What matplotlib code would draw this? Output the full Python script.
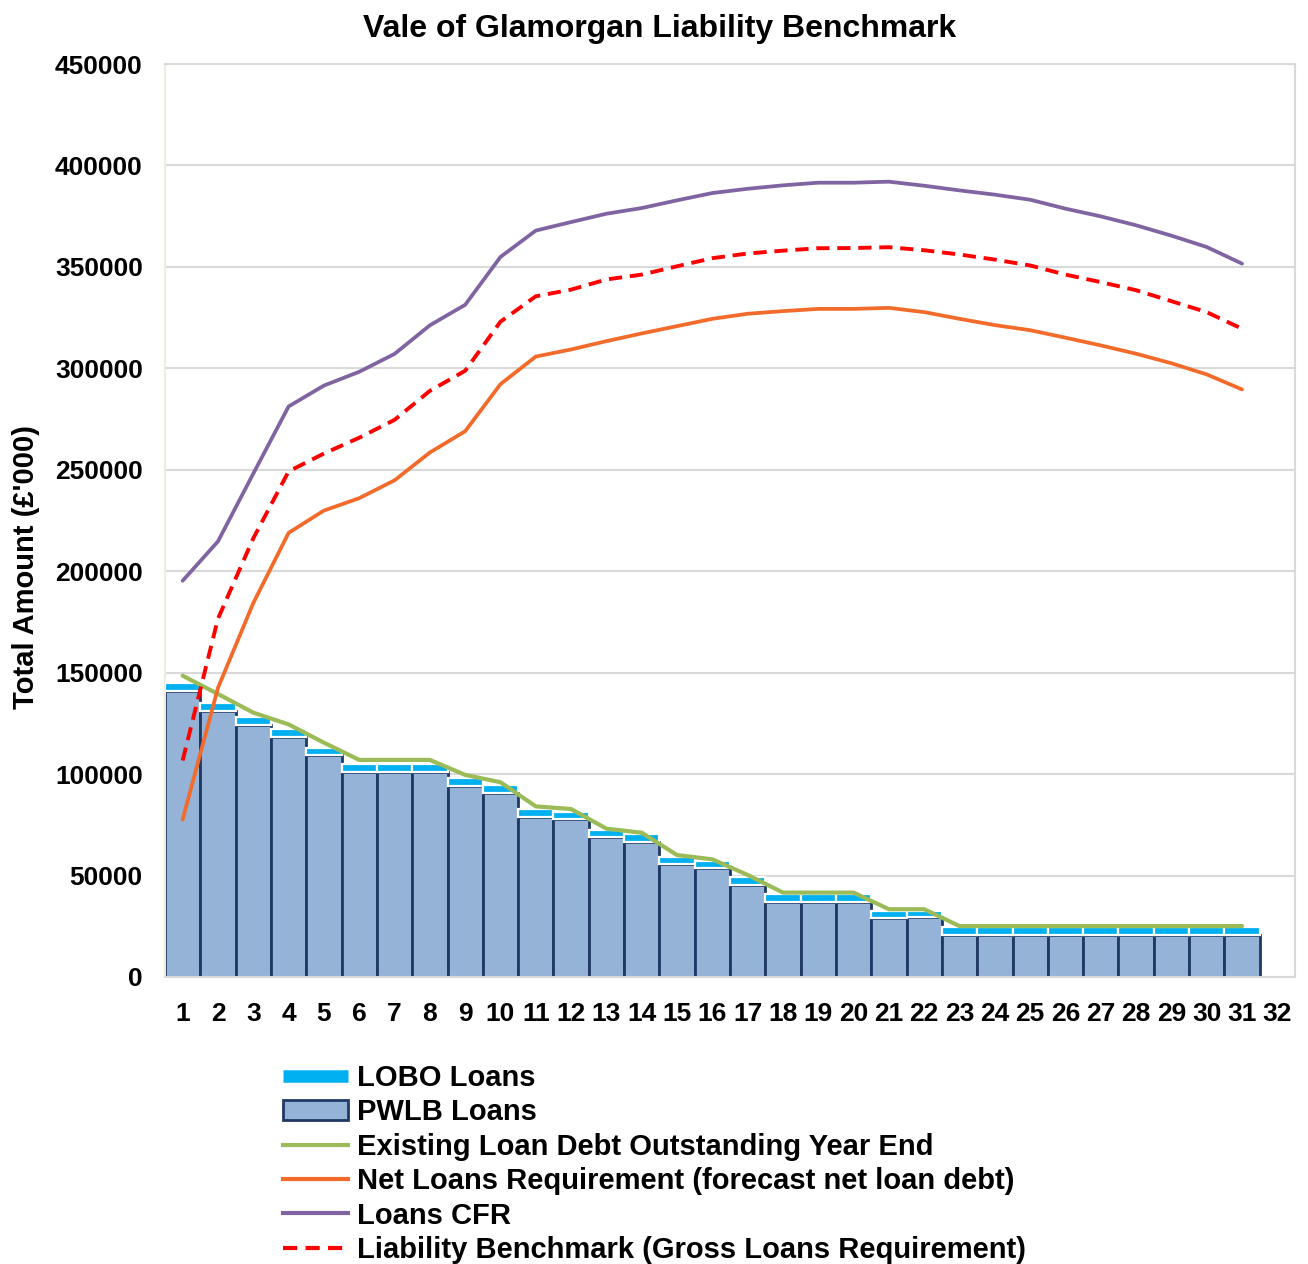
import numpy as np
import matplotlib
matplotlib.use("Agg")
import matplotlib.pyplot as plt
from matplotlib.patches import Patch
from matplotlib.lines import Line2D

plt.rcParams['font.family'] = ['Liberation Sans', 'DejaVu Sans']
plt.rcParams['font.weight'] = 'bold'

years = [str(i) for i in range(1, 33)]

pwlb = [141100, 131300, 124400, 118500, 109300, 101200, 101200, 101200, 94150, 90850,
        79000, 77900, 68900, 66550, 55550, 53550, 45350, 37100, 37100, 37100,
        29250, 29400, 20850, 20850, 20850, 20850, 20850, 20850, 20850, 20850, 20850]
lobo = [3950, 3900, 3900, 3650, 3700, 3900, 3900, 3900, 3750, 3750,
        3650, 3600, 3550, 3800, 3600, 3600, 3800, 3650, 3650, 3650,
        3450, 3150, 3650, 3650, 3650, 3650, 3650, 3650, 3650, 3650, 3650]
existing = [148500, 139500, 130300, 124500, 115500, 107000, 107000, 107000, 99600, 96000,
            84100, 82800, 73100, 71100, 60100, 58000, 50300, 41600, 41600, 41600,
            33400, 33400, 25100, 25100, 25100, 25100, 25100, 25100, 25100, 25100, 25100]
net_req = [77600, 142500, 184300, 218900, 229900, 236000, 244800, 258500, 269000, 292200,
           305800, 309300, 313400, 317200, 320800, 324400, 326900, 328200, 329300, 329300,
           329800, 327700, 324400, 321300, 318800, 315100, 311300, 307200, 302500, 297000, 289600]
cfr = [195300, 214700, 248100, 281200, 291500, 298300, 307100, 321200, 331300, 354900,
       367900, 372100, 376200, 379000, 382800, 386400, 388500, 390200, 391500, 391500,
       392000, 390000, 387700, 385600, 383100, 378700, 374900, 370500, 365400, 359800, 351600]
benchmark = [106700, 176600, 216200, 249200, 258000, 265800, 274600, 288900, 298800, 323000,
             335500, 338800, 343800, 346200, 350300, 354300, 356600, 358000, 359200, 359300,
             359700, 358200, 356100, 353600, 350700, 346200, 342500, 338500, 333100, 327700, 319500]

c_lobo = '#00B0F0'
c_pwlb = '#95B3D7'
c_edge = '#1F3864'
c_green = '#9BBB59'
c_orange = '#F26B2B'
c_purple = '#8064A2'
c_red = '#FF0000'

fig = plt.figure(figsize=(13.08, 12.64), dpi=100)
ax = fig.add_axes([165 / 1308, 1 - 977 / 1264, 1130 / 1308, 913 / 1264])

x = np.arange(len(pwlb))
ax.bar(x, pwlb, width=1.0, color=c_pwlb, edgecolor=c_edge, linewidth=2.0, zorder=2)
ax.bar(x, lobo, bottom=pwlb, width=1.0, color=c_lobo, edgecolor='white', linewidth=1.6, zorder=3)

ax.plot(x, existing, color=c_green, lw=3.0, zorder=4, solid_capstyle='round')
ax.plot(x, net_req, color=c_orange, lw=2.7, zorder=4, solid_capstyle='round')
ax.plot(x, cfr, color=c_purple, lw=2.7, zorder=4, solid_capstyle='round')
ax.plot(x, benchmark, color=c_red, lw=2.8, ls=(0, (3.4, 2.0)), zorder=5)

ax.set_xlim(-0.5, 31.5)
ax.set_ylim(0, 450000)
ax.set_yticks(np.arange(0, 450001, 50000))
ax.set_yticklabels([str(v) for v in range(0, 450001, 50000)])
ax.set_xticks(np.arange(32))
ax.set_xticklabels(years)
ax.tick_params(axis='y', length=0, pad=16, labelsize=19)
ax.tick_params(axis='x', length=0, pad=18, labelsize=19)
for lab in ax.get_xticklabels() + ax.get_yticklabels():
    lab.set_fontweight('bold')

ax.grid(axis='y', color='#D9D9D9', lw=1.5, zorder=0)
ax.set_axisbelow(True)
for s in ['top', 'right', 'bottom']:
    ax.spines[s].set_color('#D9D9D9')
    ax.spines[s].set_linewidth(1.5)
ax.spines['left'].set_color('#EEECE1')
ax.spines['left'].set_linewidth(1.5)

ax.set_ylabel("Total Amount (£'000)", fontsize=21, fontweight='bold')
ax.yaxis.set_label_coords(-0.111, 0.449)

fig.text(660 / 1308, 1 - 29 / 1264, 'Vale of Glamorgan Liability Benchmark',
         ha='center', va='center', fontsize=23, fontweight='bold')

handles = [
    Line2D([], [], color=c_lobo, lw=9, solid_capstyle='butt'),
    Patch(facecolor=c_pwlb, edgecolor=c_edge, linewidth=2),
    Line2D([], [], color=c_green, lw=3),
    Line2D([], [], color=c_orange, lw=3),
    Line2D([], [], color=c_purple, lw=3),
    Line2D([], [], color=c_red, lw=3, ls=(0, (3.4, 2.0))),
]
labels = ['LOBO Loans', 'PWLB Loans', 'Existing Loan Debt Outstanding Year End',
          'Net Loans Requirement (forecast net loan debt)', 'Loans CFR',
          'Liability Benchmark (Gross Loans Requirement)']
fig.legend(handles, labels, loc='upper left', bbox_to_anchor=(283 / 1308, 1 - 1064 / 1264),
           frameon=False, prop={'weight': 'bold', 'size': 21},
           handlelength=2.23, handletextpad=0.3, labelspacing=0.22, borderpad=0,
           borderaxespad=0)

fig.savefig('out.png', dpi=100)
